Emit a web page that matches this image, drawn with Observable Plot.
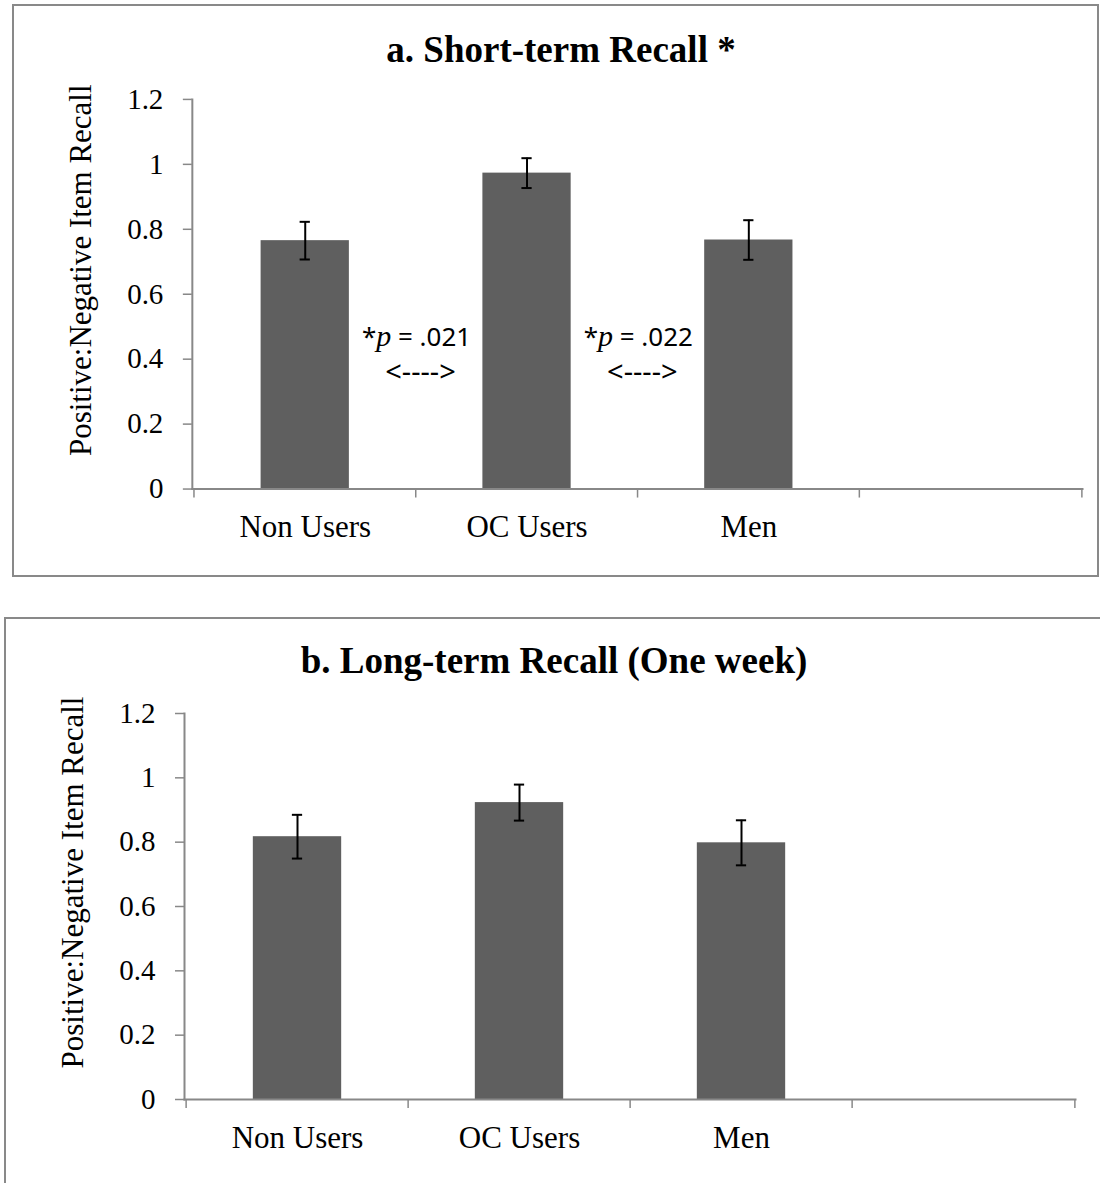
<!DOCTYPE html>
<html><head><meta charset="utf-8">
<script src="https://cdn.jsdelivr.net/npm/d3@7"></script>
<script src="https://cdn.jsdelivr.net/npm/@observablehq/plot@0.6"></script>
<style>
body{margin:0;background:#fff;width:1100px;height:1183px;overflow:hidden;position:relative;font-family:"Liberation Serif",serif;}
.panel{position:absolute;border:2px solid #898989;box-sizing:border-box;background:#fff;overflow:hidden;}
.panel svg{position:absolute;left:0;top:0;}
.title{position:absolute;font:bold 37px/37px "Liberation Serif",serif;color:#000;white-space:nowrap;transform:translateX(-50%);}
</style></head>
<body>
<div class="panel" id="pa" style="left:12px;top:4px;width:1087px;height:573px;"></div>
<div class="panel" id="pb" style="left:4px;top:617px;width:1110px;height:600px;"></div>
<div class="title" id="ta" style="left:561px;top:31px;"></div>
<div class="title" id="tb" style="left:554px;top:642px;"></div>
<script>
const categories = ["Non Users", "OC Users", "Men", ""];
const shortMeans = [0.765, 0.973, 0.767];
const shortSE = [0.058, 0.046, 0.061];
const longMeans = [0.817, 0.923, 0.798];
const longSE = [0.068, 0.056, 0.070];
const yTicks = [0, 0.2, 0.4, 0.6, 0.8, 1, 1.2];
const yLabel = "Positive:Negative Item Recall";
const titles = ["a. Short-term Recall *", "b. Long-term Recall (One week)"];
const shortPValues = [{after: "Non Users", text: "*p = .021"}, {after: "OC Users", text: "*p = .022"}];
const arrowText = "<---->";

function chart({means, se, width, height, mt, mb, ml, mr, annotations}) {
  const bw = (width - ml - mr) / categories.length;
  const rows = means.map((v, i) => ({c: categories[i], v, lo: v - se[i], hi: v + se[i]}));
  const gray = "#888";
  const marks = [
    Plot.barY(rows, {x: "c", y: "v", fill: "#5f5f5f", insetLeft: bw * 0.3, insetRight: bw * 0.3}),
    Plot.ruleX(rows, {x: "c", y1: "lo", y2: "hi", stroke: "#000", strokeWidth: 2}),
    Plot.tickY(rows, {x: "c", y: "lo", stroke: "#000", strokeWidth: 2, insetLeft: bw / 2 - 5.5, insetRight: bw / 2 - 5.5}),
    Plot.tickY(rows, {x: "c", y: "hi", stroke: "#000", strokeWidth: 2, insetLeft: bw / 2 - 5.5, insetRight: bw / 2 - 5.5}),
    Plot.frame({anchor: "left", stroke: gray, strokeWidth: 2}),
    Plot.frame({anchor: "bottom", stroke: gray, strokeWidth: 2}),
    Plot.axisY(yTicks, {tickSize: 9, tickPadding: 20, stroke: gray, strokeWidth: 1.5, color: "#000", fontSize: 29, label: null, tickFormat: d => String(+d.toFixed(1))}),
    Plot.axisX({tickSize: 0, tickPadding: 26, fontSize: 31, color: "#000", label: null}),
    Plot.axisX(categories, {tickSize: 9, tickFormat: () => "", dx: -bw / 2, stroke: gray, strokeWidth: 1.5, label: null}),
    Plot.axisX([categories[categories.length - 1]], {tickSize: 9, tickFormat: () => "", dx: bw / 2, stroke: gray, strokeWidth: 1.5, label: null}),
    Plot.text([yLabel], {frameAnchor: "left", rotate: -90, dx: -111, dy: -24, fontSize: 31, textAnchor: "middle", lineAnchor: "middle", fill: "#000"})
  ];
  if (annotations) {
    marks.push(Plot.text(annotations, {x: "after", y: () => 0.466, text: "text", dx: bw / 2, fontSize: 26, fontFamily: "Noto Sans", lineAnchor: "middle", fill: "#000"}));
    marks.push(Plot.text(annotations, {x: "after", y: () => 0.358, text: () => arrowText, dx: bw / 2 + 4, fontSize: 29, fontFamily: "Noto Sans", lineAnchor: "middle", fill: "#000", letterSpacing: 1}));
  }
  const svg = Plot.plot({
    width, height, marginTop: mt, marginBottom: mb, marginLeft: ml, marginRight: mr,
    style: {fontFamily: "Liberation Serif", color: "#000", background: "transparent", overflow: "visible"},
    x: {type: "band", domain: categories, padding: 0, axis: null},
    y: {domain: [0, 1.2], axis: null},
    marks
  });
  // italicize the p in the p-value annotations
  d3.select(svg).selectAll("text").each(function() {
    const t = this.textContent;
    if (/^\*p = /.test(t)) {
      const sel = d3.select(this);
      sel.text(null);
      sel.append("tspan").text("*");
      sel.append("tspan").attr("font-family", "Liberation Serif").attr("font-style", "italic").attr("font-size", 30).text("p");
      sel.append("tspan").text(t.slice(2));
    }
  });
  return svg;
}

document.getElementById("ta").textContent = titles[0];
document.getElementById("tb").textContent = titles[1];
document.getElementById("pa").append(chart({means: shortMeans, se: shortSE, width: 1084, height: 570, mt: 93, mb: 87, ml: 178, mr: 15, annotations: shortPValues}));
document.getElementById("pb").append(chart({means: longMeans, se: longSE, width: 1084, height: 563, mt: 94, mb: 83, ml: 178, mr: 15}));
</script>
</body></html>
